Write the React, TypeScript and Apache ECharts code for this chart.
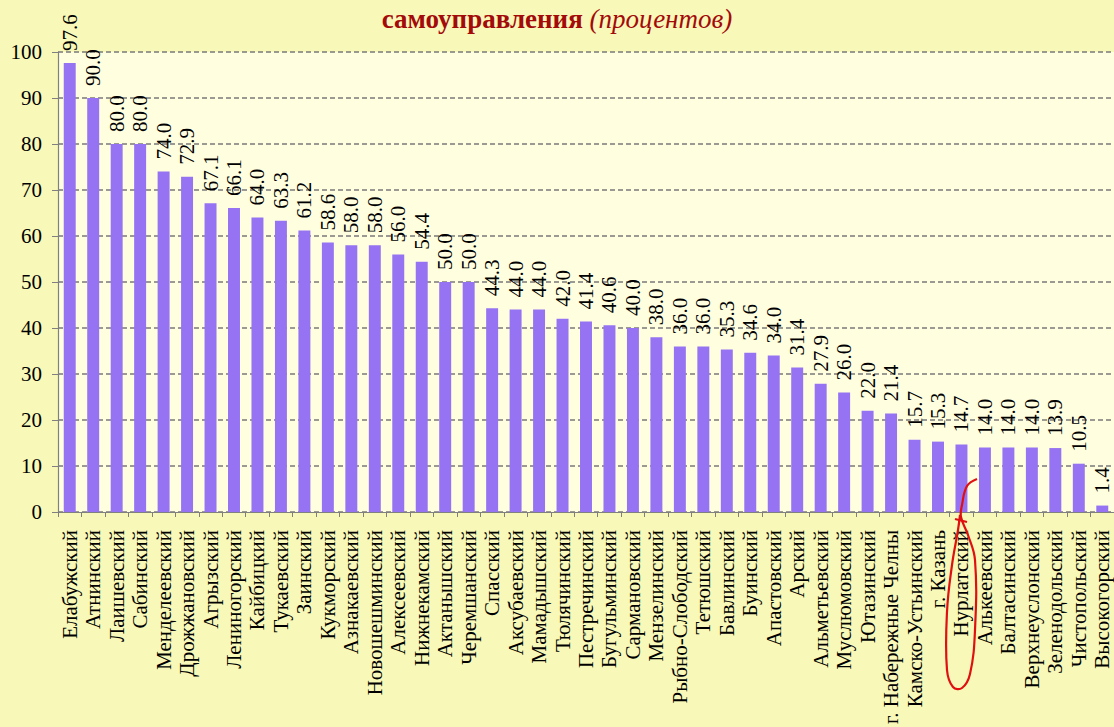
import React, { useEffect, useRef } from "react";
import * as echarts from "echarts";

const categories = [
  "Елабужский", "Атнинский", "Лаишевский", "Сабинский", "Менделеевский",
  "Дрожжановский", "Агрызский", "Лениногорский", "Кайбицкий", "Тукаевский",
  "Заинский", "Кукморский", "Азнакаевский", "Новошешминский", "Алексеевский",
  "Нижнекамский", "Актанышский", "Черемшанский", "Спасский", "Аксубаевский",
  "Мамадышский", "Тюлячинский", "Пестречинский", "Бугульминский", "Сармановский",
  "Мензелинский", "Рыбно-Слободский", "Тетюшский", "Бавлинский", "Буинский",
  "Апастовский", "Арский", "Альметьевский", "Муслюмовский", "Ютазинский",
  "г. Набережные Челны", "Камско-Устьинский", "г. Казань", "Нурлатский", "Алькеевский",
  "Балтасинский", "Верхнеуслонский", "Зеленодольский", "Чистопольский", "Высокогорский",
];

const values = [
  97.6, 90.0, 80.0, 80.0, 74.0,
  72.9, 67.1, 66.1, 64.0, 63.3,
  61.2, 58.6, 58.0, 58.0, 56.0,
  54.4, 50.0, 50.0, 44.3, 44.0,
  44.0, 42.0, 41.4, 40.6, 40.0,
  38.0, 36.0, 36.0, 35.3, 34.6,
  34.0, 31.4, 27.9, 26.0, 22.0,
  21.4, 15.7, 15.3, 14.7, 14.0,
  14.0, 14.0, 13.9, 10.5, 1.4,
];

const titleBold = "самоуправления";
const titleItalic = "(процентов)";

const FONT = "'Liberation Serif', 'Times New Roman', Times, serif";
const PAGE_BG = "#f8f8b8";
const PLOT_BG = "#ffffe0";
const BAR = "#9673f2";
const RED = "#a30a0a";

const serifText = { fontFamily: FONT, fontSize: 21, color: "#000", fontWeight: "normal" };

export default function App() {
  const ref = useRef<HTMLDivElement>(null);

  useEffect(() => {
    document.body.style.margin = "0";
    document.body.style.background = PAGE_BG;
    const chart = echarts.init(ref.current!, null, { renderer: "svg" });
    chart.setOption({
      animation: false,
      backgroundColor: PAGE_BG,
      textStyle: { fontFamily: FONT },
      title: {
        left: "center",
        top: 5,
        padding: 0,
        text: `{b|${titleBold}} {i|${titleItalic}}`,
        textStyle: {
          fontFamily: FONT,
          fontWeight: "normal",
          fontSize: 27,
          rich: {
            b: { fontFamily: FONT, fontSize: 27, fontWeight: "bold", color: RED },
            i: { fontFamily: FONT, fontSize: 27, fontWeight: "normal", fontStyle: "italic", color: RED },
          },
        },
      },
      grid: {
        left: 58,
        right: 0,
        top: 52,
        bottom: 215,
        show: true,
        backgroundColor: PLOT_BG,
        borderWidth: 0,
      },
      xAxis: {
        type: "category",
        data: categories,
        axisLine: { lineStyle: { color: "#808080", width: 1.2 } },
        axisTick: { show: true, length: 5, lineStyle: { color: "#808080" } },
        axisLabel: {
          interval: 0,
          rotate: 90,
          margin: 18,
          fontFamily: FONT,
          fontSize: 21,
          color: "#000",
          formatter: (v: string) => `{t|${v}}`,
          rich: { t: serifText },
        },
      },
      yAxis: {
        type: "value",
        min: 0,
        max: 100,
        interval: 10,
        axisLine: { show: true, lineStyle: { color: "#808080", width: 1.2 } },
        axisTick: { show: true, length: 6, lineStyle: { color: "#808080" } },
        axisLabel: {
          margin: 16,
          fontFamily: FONT,
          fontSize: 21,
          color: "#000",
          formatter: (v: number) => `{t|${v}}`,
          rich: { t: serifText },
        },
        splitLine: {
          show: true,
          lineStyle: { color: "#7a7a7a", width: 1.5, type: [5, 3] },
        },
      },
      series: [
        {
          type: "bar",
          data: values,
          barWidth: "51%",
          itemStyle: { color: BAR },
          label: {
            show: true,
            position: "top",
            rotate: 90,
            align: "left",
            verticalAlign: "middle",
            distance: 12,
            fontFamily: FONT,
            fontSize: 21,
            color: "#000",
            formatter: (p: any) => `{t|${Number(p.value).toFixed(1)}}`,
            rich: { t: serifText },
          },
        },
      ],
      graphic: [
        {
          type: "polyline",
          z: 100,
          shape: {
            smooth: 0.4,
            points: [
              [977, 479], [967, 486], [962, 505], [961, 517], [968, 535],
              [975, 560], [975, 630], [970, 674], [962, 688], [953, 687],
              [947, 670], [947, 612], [952, 565], [958, 530], [960, 515],
            ],
          },
          style: { stroke: "#e01010", lineWidth: 2.2, fill: null },
        },
        {
          type: "line",
          z: 100,
          shape: { x1: 955, y1: 519, x2: 967, y2: 522 },
          style: { stroke: "#e01010", lineWidth: 2 },
        },
      ],
    });
    return () => chart.dispose();
  }, []);

  return <div ref={ref} style={{ width: 1114, height: 727 }} />;
}
